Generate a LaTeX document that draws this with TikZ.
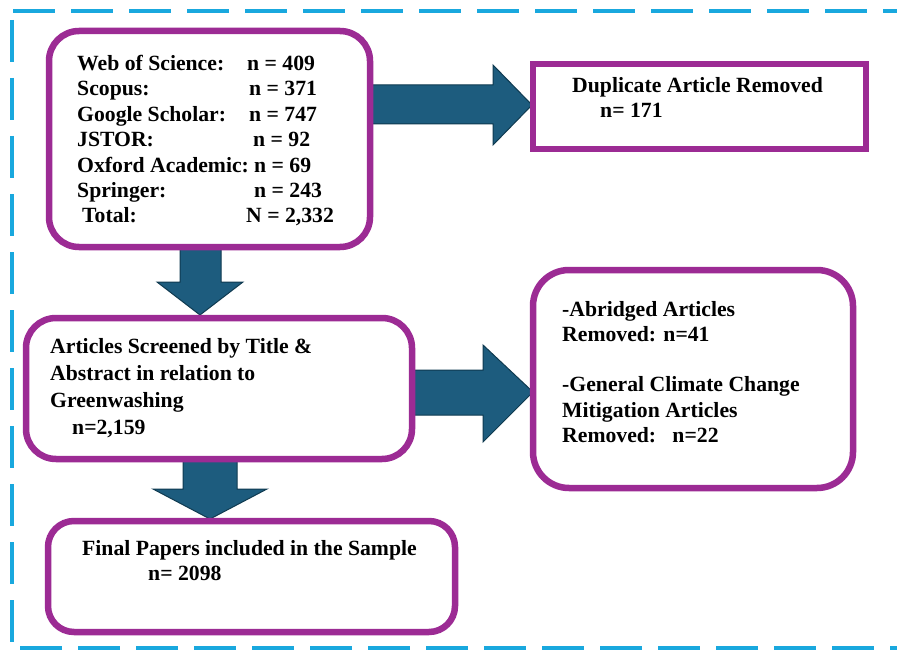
\documentclass[tikz,border=0pt]{standalone}
\usepackage{fontspec}
\setmainfont{Liberation Serif}
\definecolor{boxpurple}{HTML}{9C2B94}
\definecolor{arrowfill}{HTML}{1D5C7E}
\definecolor{arrowline}{HTML}{0F3A50}
\definecolor{framecyan}{HTML}{19A8DE}
\begin{document}
\begin{tikzpicture}[x=1pt,y=-1pt,
  frameline/.style={draw=framecyan,line width=4pt,dash pattern=on 42pt off 16pt},
  roundbox/.style={draw=boxpurple,line width=6.5pt,fill=white,rounded corners=#1},
  squarebox/.style={draw=boxpurple,line width=6.5pt,fill=white},
  blockarrow/.style={fill=arrowfill,draw=arrowline,line width=1pt,line join=miter},
  txt/.style={anchor=base west,inner sep=0pt,font=\fontsize{21.7}{25}\selectfont\bfseries}]
\useasboundingbox (0,0) rectangle (897,650);
\fill[white] (0,0) rectangle (897,650);
% dashed frame
\draw[frameline] (13,11) -- (897,11);
\draw[frameline] (12,20) -- (12,650);
\draw[frameline] (20,648) -- (897,648);
% block arrows
\draw[blockarrow] (372,85) -- (493,85) -- (493,65) -- (532,105) -- (493,145) -- (493,124) -- (372,124) -- cycle;
\draw[blockarrow] (180,247) -- (180,282) -- (157,282) -- (200,315) -- (243,282) -- (221,282) -- (221,247) -- cycle;
\draw[blockarrow] (412,370) -- (483,370) -- (483,345) -- (533,392) -- (483,442) -- (483,415) -- (412,415) -- cycle;
\draw[blockarrow] (183,459) -- (183,489) -- (153,489) -- (210,519) -- (267,489) -- (237,489) -- (237,459) -- cycle;
% boxes
\draw[roundbox=30pt] (49,31) rectangle (370,247);
\node[inner sep=0pt,minimum width=321pt,minimum height=216pt] (sources) at (209.5,139) {};
\draw[squarebox] (533,64) rectangle (866,149);
\node[inner sep=0pt,minimum width=333pt,minimum height=85pt] (dup) at (699.5,106.5) {};
\draw[roundbox=30pt] (26,318) rectangle (412,459);
\node[inner sep=0pt,minimum width=386pt,minimum height=141pt] (screen) at (219,388.5) {};
\draw[roundbox=36pt] (533,270) rectangle (853,488);
\node[inner sep=0pt,minimum width=320pt,minimum height=218pt] (excl) at (693,379) {};
\draw[roundbox=26pt] (48,521) rectangle (455,632);
\node[inner sep=0pt,minimum width=407pt,minimum height=111pt] (final) at (251.5,576.5) {};
% box 1 text
\node[txt] (s1) at (77,71) {Web of Science:};
\node[txt] (n1) at (247,71) {n = 409};
\node[txt] (s2) at (77,96) {Scopus:};
\node[txt] (n2) at (249,96) {n = 371};
\node[txt] (s3) at (77,121.5) {Google Scholar:};
\node[txt] (n3) at (249,121.5) {n = 747};
\node[txt] (s4) at (77,146.5) {JSTOR:};
\node[txt] (n4) at (253,146.5) {n = 92};
\node[txt] (s5) at (77,172) {Oxford Academic:};
\node[txt] (n5) at (254,172) {n = 69};
\node[txt] (s6) at (77,197) {Springer:};
\node[txt] (n6) at (254,197) {n = 243};
\node[txt] (s7) at (82,222) {Total:};
\node[txt] (n7) at (246,222) {N = 2,332};
% duplicate text
\node[txt] (d1) at (572,93) {Duplicate Article Removed};
\node[txt] (d2) at (600,118) {n= 171};
% screened text
\node[txt] (a1) at (50,353) {Articles Screened by Title \&};
\node[txt] (a2) at (50,380) {Abstract in relation to};
\node[txt] (a3) at (50,407) {Greenwashing};
\node[txt] (a4) at (72,434) {n=2,159};
% exclusions text
\node[txt] (e1) at (562,316) {-Abridged Articles};
\node[txt] (e2) at (562,341) {Removed: n=41};
\node[txt] (e3) at (562,391) {-General Climate Change};
\node[txt] (e4) at (562,417) {Mitigation Articles};
\node[txt] (e5) at (562,442) {Removed:\ \ \ n=22};
% final text
\node[txt] (f1) at (82,555) {Final Papers included in the Sample};
\node[txt] (f2) at (148,580) {n= 2098};
\end{tikzpicture}
\end{document}
